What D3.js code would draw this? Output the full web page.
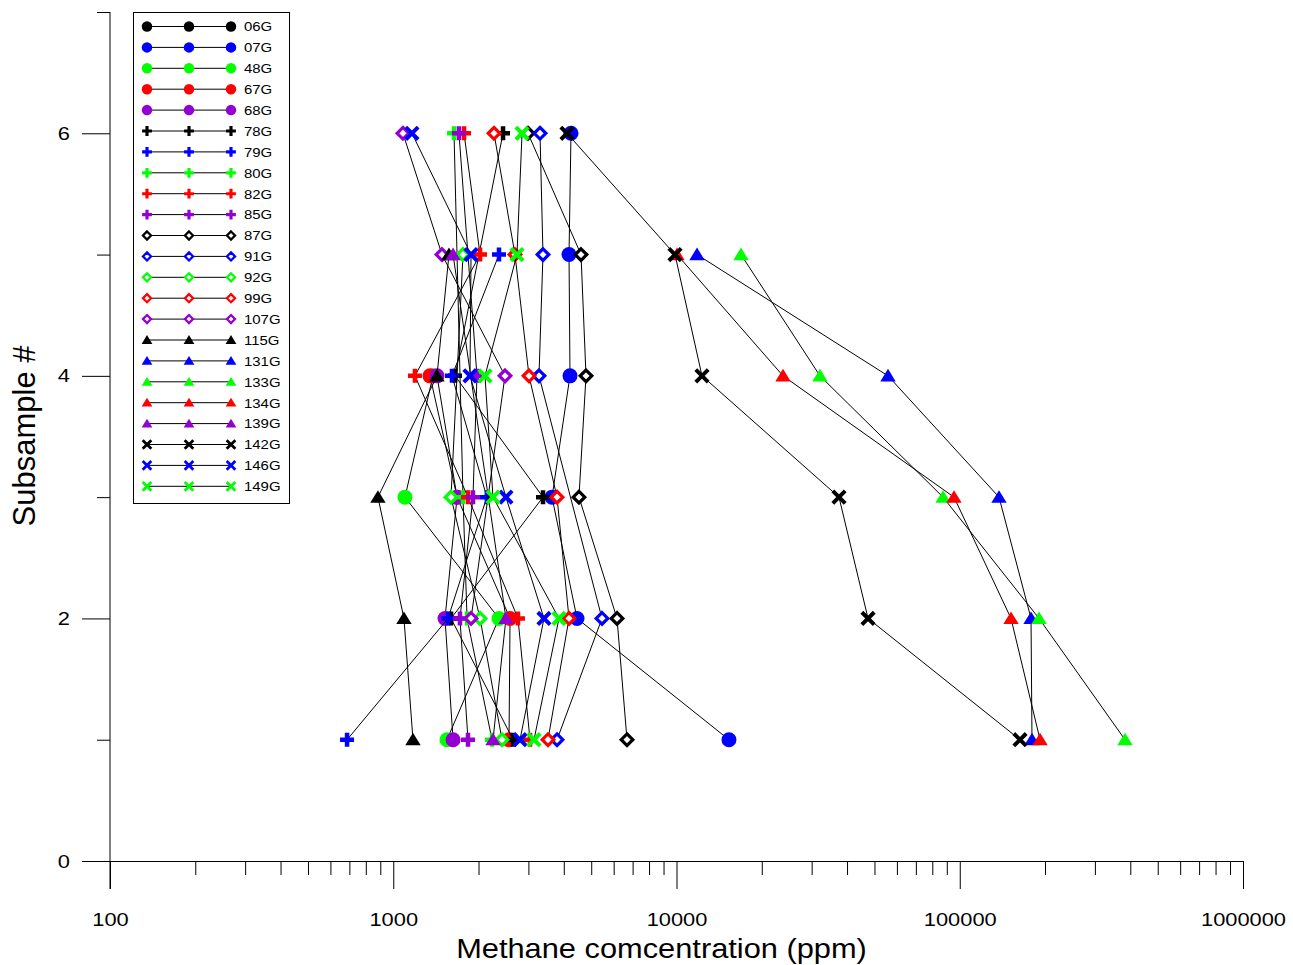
<!DOCTYPE html>
<html>
<head>
<meta charset="utf-8">
<script src="https://cdn.jsdelivr.net/npm/d3@7"></script>
<style>
  body { margin: 0; background: #fff; }
  svg { display: block; }
  text { font-family: "Liberation Sans", Arial, sans-serif; fill: #000; }
</style>
</head>
<body>
<svg id="chart" width="1293" height="965"></svg>
<script>
// Subsample numbers (y) and methane concentration per core (x, ppm); null = no subsample
const subsamples = [1, 2, 3, 4, 5, 6];

const seriesNames = ["06G", "07G", "48G", "67G", "68G", "78G", "79G", "80G", "82G", "85G",
  "87G", "91G", "92G", "99G", "107G", "115G", "131G", "133G", "134G", "139G", "142G", "146G", "149G"];

const seriesColors = ["black", "blue", "green", "red", "purple", "black", "blue", "green", "red", "purple",
  "black", "blue", "green", "red", "purple", "black", "blue", "green", "red", "purple", "black", "blue", "green"];

const seriesSymbols = ["circle", "circle", "circle", "circle", "circle", "plus", "plus", "plus", "plus", "plus",
  "diamond", "diamond", "diamond", "diamond", "diamond", "triangle", "triangle", "triangle", "triangle", "triangle",
  "cross", "cross", "cross"];

const v06G  = [null, null, null, null, null, null];
const v07G  = [15320, 4454, 3635, 4207, 4174, 4242];
const v48G  = [1548, 2362, 1100, 1381, null, null];
const v67G  = [2563, 2584, 1680, 1348, null, null];
const v68G  = [1626, 1523, 1680, 1427, null, null];
const v78G  = [2648, 1600, 3378, 1652, null, 2441];
const v79G  = [687, 1561, 2140, 1612, 2362, null];
const v80G  = [2232, 1822, 1763, null, null, 1639];
const v82G  = [3040, 2756, 1836, 1193, 2025, 1778];
const v85G  = [1836, 1720, 1912, 1975, null, 1706];
const v87G  = [6688, 6166, 4526, 4792, 4601, 2990];
const v91G  = [3786, 5457, null, 3270, 3378, 3297];
const v92G  = [2421, 2025, 1599, null, 1763, null];
const v99G  = [3518, 4174, 3786, 3015, 2690, 2268];
const v107G = [null, 1882, null, 2481, 1486, 1082];
const v115G = [1174, 1091, 883, 1427, 1573, null];
const v131G = [179900, 178500, 137600, 55810, 11814, null];
const v133G = [383200, 190500, 87300, 32100, 16892, null];
const v134G = [192100, 151700, 95440, 23770, 10041, null];
const v139G = [2250, 2500, null, null, 1626, null];
const v142G = [163200, 47450, 37470, 12303, 9878, 4107];
const v146G = [2803, 3405, 2500, 1866, 1882, 1164];
const v149G = [3140, 3847, 2250, 2108, 2734, 2849];

const seriesValues = [v06G, v07G, v48G, v67G, v68G, v78G, v79G, v80G, v82G, v85G,
  v87G, v91G, v92G, v99G, v107G, v115G, v131G, v133G, v134G, v139G, v142G, v146G, v149G];

const xMajorTicks = [100, 1000, 10000, 100000, 1000000];
const xTickLabels = ["100", "1000", "10000", "100000", "1000000"];
const yMajorTicks = [0, 2, 4, 6];
const yMinorTicks = [1, 3, 5, 7];

const colorMap = { black: "#000000", blue: "#0000ff", green: "#00ff00", red: "#ff0000", purple: "#9400d3" };

const svg = d3.select("#chart");
const x = d3.scaleLog().domain([100, 1000000]).range([110, 1243]);
const y = d3.scaleLinear().domain([0, 7]).range([861, 12]);
const textStretch = 1.15;

// ---- axes ----
const xMinorTicks = [];
for (let d = 100; d < 1000000; d *= 10) {
  for (let k = 2; k <= 9; k++) xMinorTicks.push(d * k);
}

svg.append("g")
  .attr("transform", `translate(0,${y(0)})`)
  .call(d3.axisBottom(x).tickValues(xMinorTicks).tickSize(14).tickSizeOuter(0).tickFormat(""))
  .call(g => g.select(".domain").remove());

const xAxisG = svg.append("g")
  .attr("transform", `translate(0,${y(0)})`)
  .call(d3.axisBottom(x).tickValues(xMajorTicks).tickSize(28).tickSizeOuter(0)
    .tickPadding(24).tickFormat((d, i) => xTickLabels[i]));
xAxisG.selectAll("text").attr("font-size", 19).attr("transform", `scale(${textStretch},1)`)
  .attr("font-family", "Liberation Sans, Arial, sans-serif");

svg.append("g")
  .attr("transform", `translate(${x(100)},0)`)
  .call(d3.axisLeft(y).tickValues(yMinorTicks).tickSize(13).tickSizeOuter(0).tickFormat(""))
  .call(g => g.select(".domain").remove());

const yAxisG = svg.append("g")
  .attr("transform", `translate(${x(100)},0)`)
  .call(d3.axisLeft(y).tickValues(yMajorTicks).tickSize(28).tickSizeOuter(0).tickPadding(12)
    .tickFormat(d3.format("d")));
yAxisG.select(".domain").attr("d", `M0,${y(7)}V${y(0) + 28}`);
yAxisG.selectAll("text").attr("font-size", 19).attr("font-family", "Liberation Sans, Arial, sans-serif")
  .attr("transform", function () {
    const tx = +d3.select(this).attr("x");
    return `translate(${tx},0) scale(${textStretch},1) translate(${-tx},0)`;
  });

svg.selectAll(".domain, .tick line").attr("stroke", "#000").attr("stroke-width", 1);

// axis titles
svg.append("text")
  .attr("transform", `translate(${(x(100) + x(1000000)) / 2 - 15},958) scale(1.12,1)`)
  .attr("text-anchor", "middle").attr("font-size", 27.5)
  .text("Methane comcentration (ppm)");

svg.append("text")
  .attr("transform", "translate(35,436) rotate(-90)")
  .attr("text-anchor", "middle").attr("font-size", 31)
  .text("Subsample #");

// ---- marker shapes ----
function markerPath(type, h) {
  switch (type) {
    case "plus": return `M${-h},0H${h}M0,${-h}V${h}`;
    case "cross": return `M${-h},${-h}L${h},${h}M${-h},${h}L${h},${-h}`;
    case "diamond": return `M0,${-h}L${h},0L0,${h}L${-h},0Z`;
    case "triangle": return `M0,${-h}L${h * 1.1},${h * 0.8}L${-h * 1.1},${h * 0.8}Z`;
    default: return null;
  }
}

function drawMarker(g, type, color, cx, cy, scale) {
  const c = colorMap[color];
  if (type === "circle") {
    g.append("circle").attr("cx", cx).attr("cy", cy).attr("r", 7.5 * scale).attr("fill", c);
  } else if (type === "plus") {
    g.append("path").attr("transform", `translate(${cx},${cy})`).attr("d", markerPath(type, 7 * scale))
      .attr("fill", "none").attr("stroke", c).attr("stroke-width", 4.5 * scale);
  } else if (type === "cross") {
    g.append("path").attr("transform", `translate(${cx},${cy})`).attr("d", markerPath(type, 6.2 * scale))
      .attr("fill", "none").attr("stroke", c).attr("stroke-width", 4 * scale);
  } else if (type === "diamond") {
    g.append("path").attr("transform", `translate(${cx},${cy})`).attr("d", markerPath(type, 5.8 * scale))
      .attr("fill", "#fff").attr("stroke", c).attr("stroke-width", 3.2 * scale);
  } else if (type === "triangle") {
    g.append("path").attr("transform", `translate(${cx},${cy})`).attr("d", markerPath(type, 7 * scale))
      .attr("fill", c);
  }
}

// ---- series: connecting line then markers ----
const plot = svg.append("g");
const line = d3.line().defined(d => d.v != null).x(d => x(d.v)).y(d => y(d.s));

seriesNames.forEach((name, i) => {
  const pts = subsamples.map((s, j) => ({ s, v: seriesValues[i][j] })).filter(d => d.v != null);
  const g = plot.append("g").attr("class", "series");
  g.append("path").datum(pts).attr("d", line).attr("fill", "none")
    .attr("stroke", "#000").attr("stroke-width", 1);
  pts.forEach(d => drawMarker(g, seriesSymbols[i], seriesColors[i], x(d.v), y(d.s), 1));
});

// ---- legend ----
const legend = svg.append("g");
legend.append("rect").attr("x", 133.5).attr("y", 12.5).attr("width", 156).attr("height", 491)
  .attr("fill", "#fff").attr("stroke", "#000").attr("stroke-width", 1);
seriesNames.forEach((name, i) => {
  const ly = 26.5 + i * 20.9;
  legend.append("line").attr("x1", 147).attr("x2", 231).attr("y1", ly).attr("y2", ly)
    .attr("stroke", "#000").attr("stroke-width", 1);
  [147, 189, 231].forEach(lx => drawMarker(legend, seriesSymbols[i], seriesColors[i], lx, ly, 0.7));
  legend.append("text").attr("transform", `translate(244,${ly + 4.8}) scale(${textStretch},1)`)
    .attr("font-size", 13).text(name);
});
</script>
</body>
</html>
